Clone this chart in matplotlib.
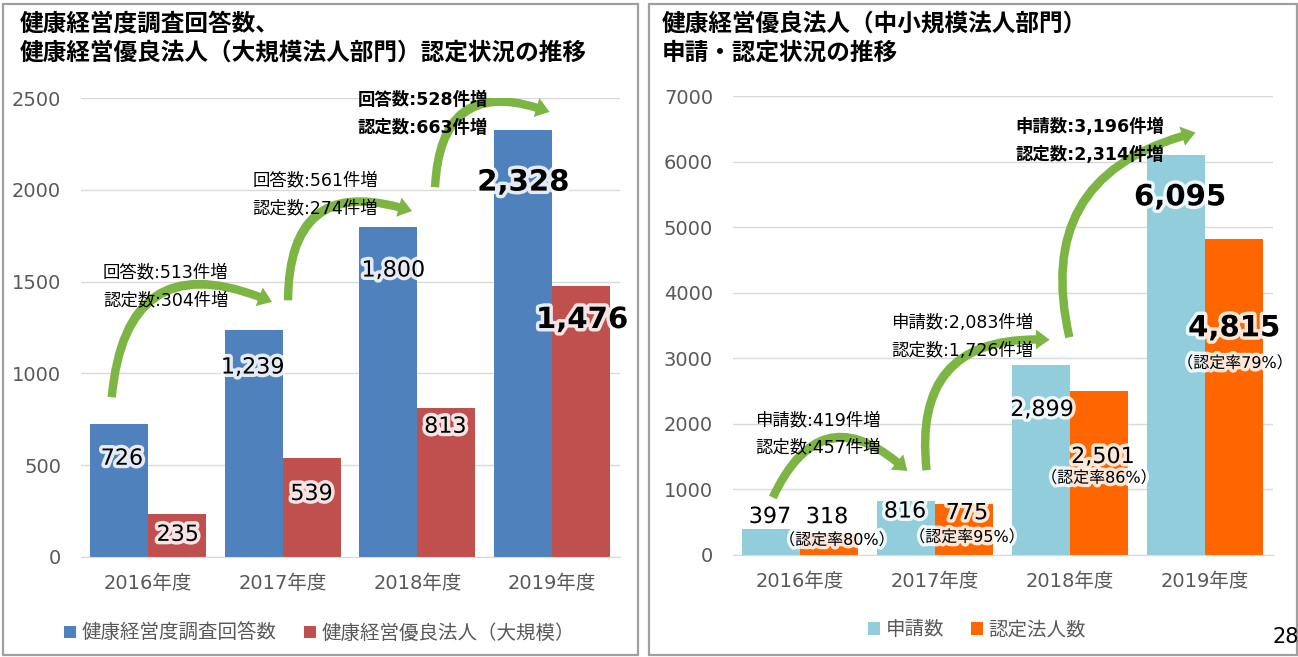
import matplotlib
matplotlib.use('Agg')
import matplotlib.pyplot as plt
import matplotlib.patheffects as pe
from matplotlib.patches import FancyArrowPatch, Rectangle
import numpy as np

plt.rcParams['font.family'] = ['DejaVu Sans', 'Noto Sans CJK JP']
CJK = ['Noto Sans CJK JP', 'DejaVu Sans']

years = ['2016年度', '2017年度', '2018年度', '2019年度']

# left chart: large enterprises
answers = [726, 1239, 1800, 2328]
certified_large = [235, 539, 813, 1476]
left_title = '健康経営度調査回答数、\n健康経営優良法人（大規模法人部門）認定状況の推移'
left_legend = ['健康経営度調査回答数', '健康経営優良法人（大規模）']
left_increase = [('回答数:513件増', '認定数:304件増'),
                 ('回答数:561件増', '認定数:274件増'),
                 ('回答数:528件増', '認定数:663件増')]

# right chart: small and medium enterprises
applications = [397, 816, 2899, 6095]
certified_small = [318, 775, 2501, 4815]
cert_rate = [80, 95, 86, 79]
right_title = '健康経営優良法人（中小規模法人部門）\n申請・認定状況の推移'
right_legend = ['申請数', '認定法人数']
right_increase = [('申請数:419件増', '認定数:457件増'),
                  ('申請数:2,083件増', '認定数:1,726件増'),
                  ('申請数:3,196件増', '認定数:2,314件増')]

GRAY = '#595959'
GREEN = '#7DB544'
W = 0.43
glow = [pe.withStroke(linewidth=5, foreground='white', alpha=0.85)]


def setup(ax, ymax, step):
    ax.set_xlim(-0.5, 3.5)
    ax.set_ylim(0, ymax)
    ax.set_yticks(np.arange(0, ymax + 1, step))
    ax.set_xticks(range(len(years)))
    ax.set_xticklabels(years)
    ax.grid(axis='y', color='#D9D9D9', lw=1)
    ax.set_axisbelow(True)
    for s in ['top', 'right', 'left']:
        ax.spines[s].set_visible(False)
    ax.spines['bottom'].set_color('#D9D9D9')
    ax.tick_params(axis='y', length=0, labelsize=14, colors=GRAY, pad=14)
    ax.tick_params(axis='x', length=0, labelsize=14, colors=GRAY, pad=12)


def value_labels(ax, xs, vals, offsets, big):
    for x, v, (dx, dy), b in zip(xs, vals, offsets, big):
        ax.annotate(f'{v:,}', (x, v), xytext=(dx, dy), textcoords='offset pixels',
                    ha='center', va='center', fontsize=21 if b else 16,
                    fontweight='bold' if b else 'normal', color='black',
                    path_effects=glow, zorder=6)


def increase_text(ax, texts, pos, bold):
    for (t1, t2), (x, y1, y2), b in zip(texts, pos, bold):
        for t, y in ((t1, y1), (t2, y2)):
            ax.text(x, y, t, ha='left', va='center', fontsize=12.5,
                    fontweight='bold' if b else 'normal', color='black', zorder=6)


def arrows(ax, pts, rad):
    for (a, b), r in zip(pts, rad):
        p = FancyArrowPatch(a, b, connectionstyle=f'arc3,rad={r}',
                            arrowstyle='simple,head_length=0.9,head_width=1.3,tail_width=0.55',
                            mutation_scale=11, color=GREEN, lw=0, zorder=4)
        ax.add_patch(p)


fig = plt.figure(figsize=(12.98, 6.57), dpi=100)

# panel frames
for x0, x1 in ((3, 638), (649, 1297)):
    fig.add_artist(Rectangle((x0 / 1298, 2 / 657), (x1 - x0) / 1298, 651 / 657,
                             transform=fig.transFigure, fill=False,
                             edgecolor='#A0A0A0', lw=1.6))

# ---- left
ax1 = fig.add_axes([80.5 / 1298, 100 / 657, 539 / 1298, 459 / 657])
x = np.arange(len(years))
ax1.bar(x - W / 2, answers, W, color='#4F81BD', label=left_legend[0], zorder=2)
ax1.bar(x + W / 2, certified_large, W, color='#C0504D', label=left_legend[1], zorder=2)
setup(ax1, 2500, 500)
value_labels(ax1, x - W / 2, answers, [(3, -35), (-1, -38), (5, -44), (0, -53)],
             [False, False, False, True])
value_labels(ax1, x + W / 2, certified_large, [(1, -21), (0, -36), (-1, -19), (1, -34)],
             [False, False, False, True])
increase_text(ax1, left_increase,
              [(-0.333, 1552, 1400), (0.778, 2053, 1901), (1.556, 2489, 2337)],
              [False, False, True])
arrows(ax1, [((-0.27, 855), (0.94, 1383)), ((1.04, 1383), (1.98, 1879)),
             ((2.13, 1999), (3.0, 2418))], [-0.7, -0.7, -0.7])
ax1.legend(loc='center', bbox_to_anchor=(0.444, -0.166), ncol=2, frameon=False,
           handlelength=0.6, handleheight=0.6, handletextpad=0.3, columnspacing=1.4,
           prop={'family': CJK, 'size': 14}, labelcolor=GRAY)
fig.text(20 / 1298, 1 - 38 / 657, left_title, ha='left', va='center', family=CJK,
         fontsize=17, fontweight='bold', linespacing=1.25)

# ---- right
ax2 = fig.add_axes([732.5 / 1298, 102 / 657, 540 / 1298, 459 / 657])
ax2.bar(x - W / 2, applications, W, color='#92CDDC', label=right_legend[0], zorder=2)
ax2.bar(x + W / 2, certified_small, W, color='#FF6600', label=right_legend[1], zorder=2)
setup(ax2, 7000, 1000)
value_labels(ax2, x - W / 2, applications, [(-1, 12), (-1, -10), (1, -45), (4, -42)],
             [False, False, False, True])
value_labels(ax2, x + W / 2, certified_small, [(-2, 17), (3, -9), (4, -66), (0, -89)],
             [False, False, False, True])
for xi, v, r, (dx, dy) in zip(x + W / 2, certified_small, cert_rate,
                              [(8, -6), (3, -33), (0, -87), (1, -124)]):
    ax2.annotate(f'（認定率{r}%）', (xi, v), xytext=(dx, dy), textcoords='offset pixels',
                 ha='center', va='center', fontsize=11.5, color='black',
                 path_effects=glow, zorder=6)
increase_text(ax2, right_increase,
              [(-0.333, 2059, 1647), (0.674, 3538, 3111), (1.593, 6527, 6100)],
              [False, False, True])
arrows(ax2, [((-0.21, 839), (0.81, 1251)), ((0.94, 1251), (1.87, 3279)),
             ((2.0, 3279), (2.95, 6451))], [-0.7, -0.6, -0.5])
ax2.legend(loc='center', bbox_to_anchor=(0.453, -0.163), ncol=2, frameon=False,
           handlelength=0.6, handleheight=0.6, handletextpad=0.3, columnspacing=1.4,
           prop={'family': CJK, 'size': 14}, labelcolor=GRAY)
fig.text(662 / 1298, 1 - 38 / 657, right_title, ha='left', va='center', family=CJK,
         fontsize=17, fontweight='bold', linespacing=1.25)

fig.text(1273 / 1298, 1 - 637 / 657, '28', ha='left', va='center', fontsize=15)

fig.savefig('out.png', dpi=100)
